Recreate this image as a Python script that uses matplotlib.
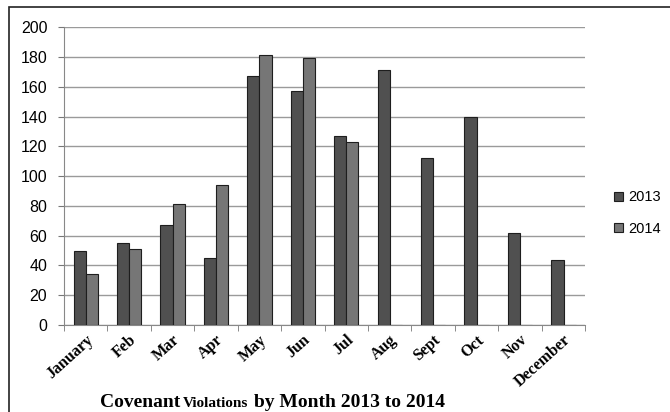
import numpy as np
import matplotlib.pyplot as plt
from matplotlib.patches import Rectangle

# Monatsdaten
months = ['January', 'Feb', 'Mar', 'Apr', 'May', 'Jun', 'Jul',
          'Aug', 'Sept', 'Oct', 'Nov', 'December']
v2013 = [50, 55, 67, 45, 167, 157, 127, 171, 112, 140, 62, 44]
v2014 = [34, 51, 81, 94, 181, 179, 123, 0, 0, 0, 0, 0]
yticks = [0, 20, 40, 60, 80, 100, 120, 140, 160, 180, 200]

fig = plt.figure(figsize=(6.7, 4.12), dpi=100)
ax = fig.add_axes([0.0955, 0.211, 0.778, 0.723])

x = np.arange(len(months))
w = 0.28
ax.bar(x - w/2, v2013, w, color='#505050', edgecolor='#1e1e1e', linewidth=0.8,
       label='2013', zorder=3)
ax.bar(x + w/2, v2014, w, color='#767676', edgecolor='#1e1e1e', linewidth=0.8,
       label='2014', zorder=3)

ax.set_xlim(-0.5, len(months) - 0.5)
ax.set_ylim(0, 200)
ax.set_yticks(yticks)
ax.set_yticklabels([str(t) for t in yticks], family='Liberation Sans', fontsize=11.5)
ax.set_xticks(x)
ax.set_xticklabels(months, rotation=42, ha='right', rotation_mode='anchor',
                   family='Liberation Serif', fontweight='bold', fontsize=11.5)
ax.tick_params(axis='x', length=0, pad=5)
ax.set_xticks(np.arange(-0.5, len(months)), minor=True)
ax.tick_params(axis='x', which='minor', length=4, color='#777777')
ax.tick_params(axis='y', length=4, color='#777777', pad=8)

ax.grid(axis='y', color='#9a9a9a', linewidth=1.0, zorder=0)
for s in ['top', 'right']:
    ax.spines[s].set_visible(False)
ax.spines['left'].set_color('#888888')
ax.spines['bottom'].set_color('#888888')

ax.legend(loc='center left', bbox_to_anchor=(1.03, 0.376), frameon=False,
          prop={'family': 'Liberation Sans', 'size': 10.5},
          handlelength=0.6, handleheight=0.6, handletextpad=0.4, labelspacing=1.2)

# Titel unten, mit kleinerem "Violations"
ty = 0.012
fig.text(100/670, ty, 'Covenant', family='Liberation Serif', fontweight='bold', fontsize=14)
fig.text(183/670, ty, 'Violations', family='Liberation Serif', fontweight='bold', fontsize=11)
fig.text(254/670, ty, 'by Month 2013 to 2014', family='Liberation Serif',
         fontweight='bold', fontsize=14)

# Rahmen
fig.patches.append(Rectangle((0.013, -0.01), 1.0, 0.993, transform=fig.transFigure,
                             fill=False, edgecolor='#222222', linewidth=1.2))

fig.savefig('out.png', dpi=100)
